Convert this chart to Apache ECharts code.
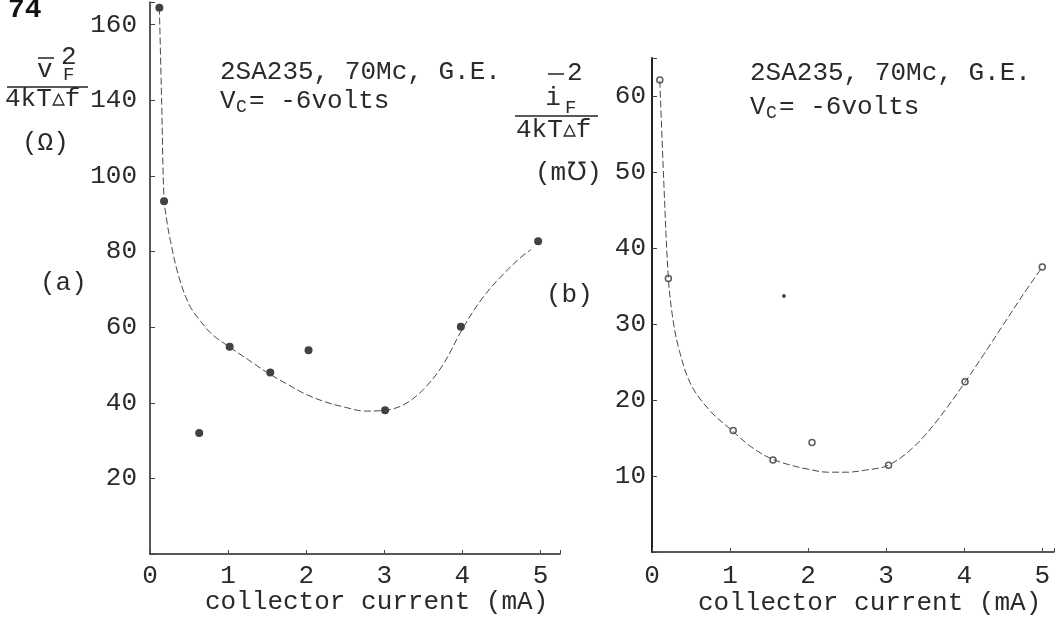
<!DOCTYPE html>
<html>
<head>
<meta charset="utf-8">
<title>2SA235 noise vs collector current</title>
<script src="https://cdn.jsdelivr.net/npm/echarts@6/dist/echarts.min.js"></script>
<style>
html, body { margin: 0; padding: 0; background: #fff; }
#chart { width: 1063px; height: 619px; }
</style>
</head>
<body>
<div id="chart"></div>
<script>
// (a) noise resistance, measured points
const leftPtsX = [0.12, 0.18, 0.63, 1.02, 1.54, 2.03, 3.01, 3.98, 4.97];
const leftPtsY = [144.5, 93.3, 32.0, 54.8, 48.0, 53.9, 38.0, 60.1, 82.7];
// (a) hand drawn curve
const leftCurveX = [0.12, 0.15, 0.18, 0.22, 0.26, 0.36, 0.5, 0.65, 0.8, 1.0, 1.25, 1.5, 1.75, 2.0, 2.25, 2.5, 2.75, 3.0, 3.25, 3.5, 3.75, 4.0, 4.25, 4.5, 4.75, 4.88];
const leftCurveY = [144.5, 119, 94, 87.5, 83, 74, 66, 61.5, 58, 55, 51.5, 48, 45, 42.2, 40.2, 38.8, 37.8, 38, 39.5, 43.5, 50, 59.5, 67.5, 73.5, 78.5, 80.5];
// tick labels as typed on the left axis (120 position is marked 140, 140 is marked 160)
const leftYTicks = [0, 20, 40, 60, 80, 100, 120, 140];
const leftYLabels = ['', '20', '40', '60', '80', '100', '140', '160'];

// (b) noise conductance, measured points
const rightPtsX = [0.1, 0.21, 1.04, 1.55, 2.05, 3.03, 4.01, 5.0];
const rightPtsY = [62.1, 36.0, 16.0, 12.1, 14.4, 11.4, 22.4, 37.5];
const rightStrayX = [1.69];
const rightStrayY = [33.7];
// (b) hand drawn curve
const rightCurveX = [0.1, 0.15, 0.21, 0.27, 0.35, 0.5, 0.75, 1.0, 1.25, 1.5, 1.75, 2.0, 2.25, 2.5, 2.75, 3.0, 3.25, 3.5, 3.75, 4.0, 4.25, 4.5, 4.75, 5.0];
const rightCurveY = [62, 49, 36, 30.5, 26.5, 22, 18.5, 16.2, 14, 12.4, 11.5, 10.9, 10.5, 10.5, 10.8, 11.3, 12.9, 15.4, 18.6, 22.2, 26, 29.9, 33.8, 37.5];

const xTicks = [0, 1, 2, 3, 4, 5];

const FONT = 'Liberation Mono';
const INK = '#2a2a2a';

const zip = (xs, ys) => xs.map((x, i) => [x, ys[i]]);

const chart = echarts.init(document.getElementById('chart'));

const axisText = { fontFamily: FONT, fontSize: 26, color: INK };

const xAxisBase = (gridIndex, margin) => ({
  type: 'value',
  gridIndex,
  min: 0,
  interval: 1,
  splitLine: { show: false },
  axisLine: { lineStyle: { color: '#222', width: 1.5 } },
  axisTick: { inside: true, length: 4, lineStyle: { color: '#444' } },
  axisLabel: Object.assign({}, axisText, {
    margin,
    formatter: v => (xTicks.includes(v) ? String(v) : '')
  })
});

const text = (x, y, str, extra) => ({
  type: 'text',
  x, y,
  z: 10,
  style: Object.assign({
    text: str,
    font: '26px "' + FONT + '"',
    fill: INK,
    textAlign: 'left',
    textVerticalAlign: 'middle'
  }, extra || {})
});

const bar = (x1, y1, x2, y2) => ({
  type: 'line',
  z: 10,
  shape: { x1, y1, x2, y2 },
  style: { stroke: '#222', lineWidth: 1.5 }
});

const curveStyle = { color: '#4a4a4a', width: 1, type: [7, 3] };

const option = {
  backgroundColor: '#fff',
  animation: false,
  grid: [
    { left: 150, top: 2, width: 410, height: 552 },
    { left: 652, top: 58, width: 402, height: 494 }
  ],
  xAxis: [
    Object.assign(xAxisBase(0, 9), { max: 5.25 }),
    Object.assign(xAxisBase(1, 11), { max: 5.15 })
  ],
  yAxis: [
    {
      type: 'value',
      gridIndex: 0,
      min: 0,
      max: 146,
      interval: 20,
      splitLine: { show: false },
      axisLine: { show: true, lineStyle: { color: '#222', width: 1.5 } },
      axisTick: { show: true, inside: true, length: 5, lineStyle: { color: '#444' } },
      axisLabel: Object.assign({}, axisText, {
        margin: 13,
        formatter: v => {
          const i = leftYTicks.indexOf(v);
          return i < 0 ? '' : leftYLabels[i];
        }
      })
    },
    {
      type: 'value',
      gridIndex: 1,
      min: 0,
      max: 65,
      interval: 10,
      splitLine: { show: false },
      axisLine: { show: true, lineStyle: { color: '#222', width: 2 } },
      axisTick: { show: true, inside: true, length: 5, lineStyle: { color: '#444' } },
      axisLabel: Object.assign({}, axisText, {
        margin: 6,
        formatter: v => (v > 0 && v % 10 === 0 ? String(v) : '')
      })
    }
  ],
  series: [
    {
      type: 'line',
      xAxisIndex: 0,
      yAxisIndex: 0,
      data: zip(leftCurveX, leftCurveY),
      showSymbol: false,
      smooth: 0.35,
      lineStyle: curveStyle
    },
    {
      type: 'scatter',
      xAxisIndex: 0,
      yAxisIndex: 0,
      data: zip(leftPtsX, leftPtsY),
      symbol: 'circle',
      symbolSize: 8,
      itemStyle: { color: '#111' }
    },
    {
      type: 'line',
      xAxisIndex: 1,
      yAxisIndex: 1,
      data: zip(rightCurveX, rightCurveY),
      showSymbol: false,
      smooth: 0.35,
      lineStyle: curveStyle
    },
    {
      type: 'scatter',
      xAxisIndex: 1,
      yAxisIndex: 1,
      data: zip(rightPtsX, rightPtsY),
      symbol: 'circle',
      symbolSize: 6,
      itemStyle: { color: '#fff', borderColor: '#333', borderWidth: 1.5 }
    },
    {
      type: 'scatter',
      xAxisIndex: 1,
      yAxisIndex: 1,
      data: zip(rightStrayX, rightStrayY),
      symbol: 'circle',
      symbolSize: 4,
      itemStyle: { color: '#222' }
    }
  ],
  graphic: [
    // page number
    text(8, 10, '74', { font: 'bold 28px "' + FONT + '"', fill: '#111' }),

    // (a) y-axis quantity
    bar(38, 58, 54, 58),
    text(37, 70, 'v'),
    text(61, 57, '2'),
    text(63, 75, 'F', { font: '19px "' + FONT + '"' }),
    bar(7, 87, 88, 87),
    text(5, 99, '4kT\u25B5f'),
    text(22, 143, '(\u03A9)'),
    text(40, 283, '(a)'),

    // (a) annotation
    text(220, 72, '2SA235, 70Mc, G.E.'),
    text(220, 101, 'V'),
    text(236, 107, 'C', { font: '18px "' + FONT + '"' }),
    text(249, 101, '= -6volts'),

    // (b) y-axis quantity
    bar(548, 74, 564, 74),
    text(567, 73, '2'),
    text(553, 98, 'i', { textAlign: 'center' }),
    text(565, 108, 'F', { font: '19px "' + FONT + '"' }),
    bar(515, 116, 598, 116),
    text(516, 130, '4kT\u25B5f'),
    text(535, 173, '(m\u2127)'),
    text(546, 295, '(b)'),

    // (b) annotation
    text(750, 73, '2SA235, 70Mc, G.E.'),
    text(750, 107, 'V'),
    text(766, 113, 'C', { font: '18px "' + FONT + '"' }),
    text(779, 107, '= -6volts'),

    // x-axis titles
    text(205, 602, 'collector current (mA)'),
    text(698, 603, 'collector current (mA)')
  ]
};

chart.setOption(option);
</script>
</body>
</html>
